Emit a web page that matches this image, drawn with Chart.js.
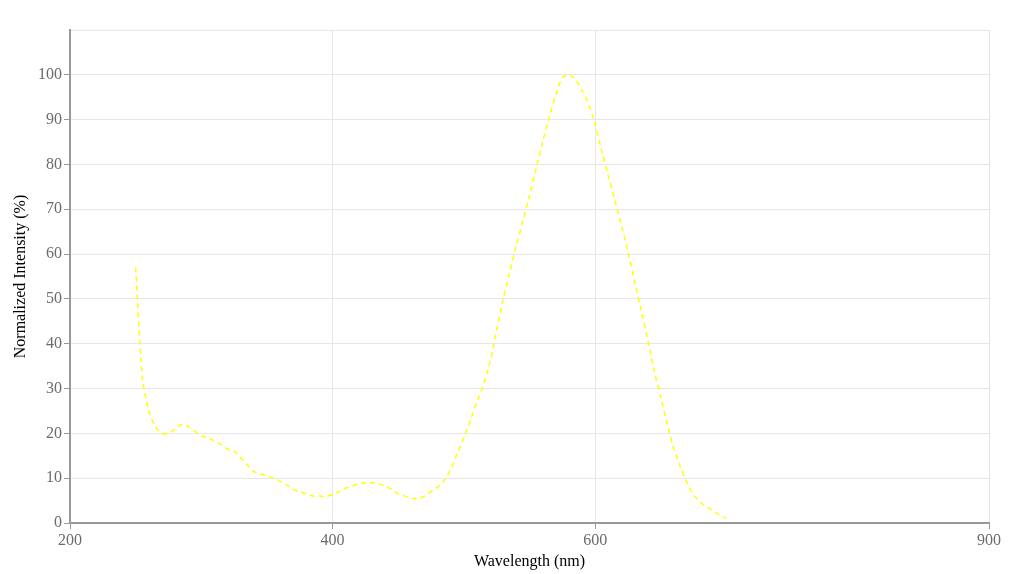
<!DOCTYPE html>
<html>
<head>
<meta charset="utf-8">
<script src="https://cdn.jsdelivr.net/npm/chart.js@4"></script>
<style>
    html, body { margin: 0; padding: 0; background: #fff; }
    #wrap { width: 1010px; height: 574px; }
</style>
</head>
<body>
<div id="wrap"><canvas id="spectrum"></canvas></div>
<script>
// wavelength (nm) and normalized intensity (%)
const wavelengths = [250, 255, 260, 265, 270, 275, 280, 285, 290, 295, 300, 305, 310, 315, 320, 325, 330, 335, 340, 345,
    350, 355, 360, 365, 370, 375, 380, 385, 390, 395, 400, 405, 410, 415, 420, 425, 430, 435, 440, 445,
    450, 455, 460, 465, 470, 475, 480, 485, 490, 495, 500, 505, 510, 515, 520, 525, 530, 535, 540, 545,
    550, 555, 560, 565, 570, 575, 580, 585, 590, 595, 600, 605, 610, 615, 620, 625, 630, 635, 640, 645,
    650, 655, 660, 665, 670, 675, 680, 685, 690, 695, 700];
const intensities = [57, 33, 25, 21.5, 20, 20, 21, 22, 21.5, 20.5, 19.5, 19, 18.3, 17.5, 16.5, 16, 14.5, 13, 11.5, 11,
    10.5, 10, 9.3, 8.5, 7.5, 7, 6.5, 6, 6, 6, 6.3, 7, 7.8, 8.2, 8.8, 9, 9, 8.8, 8.2, 7.5,
    6.5, 6, 5.5, 5.5, 6, 7, 8, 9.5, 12, 15.5, 19, 23, 27, 31, 36, 43, 50, 56, 62, 67.5,
    73, 79, 85, 90.5, 95.5, 99.3, 100, 99, 96.5, 93.5, 89, 83, 77.5, 72, 66.5, 60.5, 54, 47.5, 41, 34,
    28, 22, 16.5, 12.5, 9, 6.3, 4.7, 3.6, 2.7, 1.7, 1];

const xTicks = [200, 400, 600, 900];
const yTicks = [0, 10, 20, 30, 40, 50, 60, 70, 80, 90, 100, 110];

const serif = '"Liberation Serif", "Times New Roman", serif';

const points = wavelengths.map(function (w, i) { return { x: w, y: intensities[i] }; });

new Chart(document.getElementById('spectrum'), {
    type: 'line',
    data: {
        datasets: [{
            data: points,
            borderColor: '#ffff00',
            borderWidth: 1.5,
            borderDash: [5, 4],
            pointRadius: 0,
            tension: 0.3,
            fill: false
        }]
    },
    options: {
        responsive: true,
        maintainAspectRatio: false,
        animation: false,
        layout: { padding: { top: 30, right: 21, left: 0, bottom: 0 } },
        plugins: { legend: { display: false }, tooltip: { enabled: false } },
        scales: {
            x: {
                type: 'linear',
                min: 200,
                max: 900,
                afterBuildTicks: function (scale) {
                    scale.ticks = xTicks.map(function (v) { return { value: v }; });
                },
                afterFit: function (scale) { scale.height = 51; },
                grid: { color: '#e6e6e6', tickColor: '#999', tickLength: 6 },
                border: { color: '#999', width: 2 },
                ticks: { color: '#6b6b6b', font: { family: serif, size: 16 }, padding: 2, maxRotation: 0 },
                title: {
                    display: true,
                    text: 'Wavelength (nm)',
                    color: '#000',
                    font: { family: serif, size: 16 },
                    padding: { top: 0, bottom: 3 }
                }
            },
            y: {
                min: 0,
                max: 110,
                afterBuildTicks: function (scale) {
                    scale.ticks = yTicks.map(function (v) { return { value: v }; });
                },
                afterFit: function (scale) { scale.width = 70; },
                grid: {
                    color: '#e6e6e6',
                    tickLength: 6,
                    tickColor: function (ctx) { return ctx.tick && ctx.tick.value === 110 ? 'rgba(0,0,0,0)' : '#999'; }
                },
                border: { color: '#999', width: 2 },
                ticks: {
                    color: '#6b6b6b',
                    font: { family: serif, size: 16 },
                    padding: 2,
                    callback: function (v) { return v === 110 ? '' : v; }
                },
                title: {
                    display: true,
                    text: 'Normalized Intensity (%)',
                    color: '#000',
                    font: { family: serif, size: 16 },
                    padding: { top: 11, bottom: 0 }
                }
            }
        }
    }
});
</script>
</body>
</html>
